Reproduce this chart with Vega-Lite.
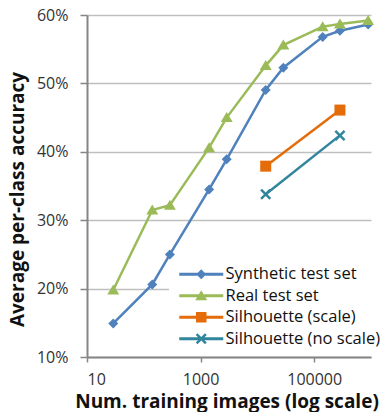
{
  "$schema": "https://vega.github.io/schema/vega-lite/v6.json",
  "width": 284,
  "height": 342,
  "autosize": "none",
  "padding": {"left": 87, "top": 15, "right": 15, "bottom": 55},
  "background": "white",
  "config": {"view": {"stroke": null}, "font": "Open Sans"},
  "data": {
    "values": [
      {"series": "Synthetic test set", "images": 29, "acc": 0.149},
      {"series": "Synthetic test set", "images": 141, "acc": 0.206},
      {"series": "Synthetic test set", "images": 288, "acc": 0.250},
      {"series": "Synthetic test set", "images": 1412, "acc": 0.345},
      {"series": "Synthetic test set", "images": 2880, "acc": 0.389},
      {"series": "Synthetic test set", "images": 14000, "acc": 0.4905},
      {"series": "Synthetic test set", "images": 28600, "acc": 0.523},
      {"series": "Synthetic test set", "images": 141000, "acc": 0.568},
      {"series": "Synthetic test set", "images": 284000, "acc": 0.577},
      {"series": "Synthetic test set", "images": 890000, "acc": 0.586},
      {"series": "Real test set", "images": 29, "acc": 0.198},
      {"series": "Real test set", "images": 141, "acc": 0.315},
      {"series": "Real test set", "images": 288, "acc": 0.322},
      {"series": "Real test set", "images": 1412, "acc": 0.406},
      {"series": "Real test set", "images": 2880, "acc": 0.450},
      {"series": "Real test set", "images": 14000, "acc": 0.526},
      {"series": "Real test set", "images": 28600, "acc": 0.556},
      {"series": "Real test set", "images": 141000, "acc": 0.583},
      {"series": "Real test set", "images": 284000, "acc": 0.587},
      {"series": "Real test set", "images": 890000, "acc": 0.592},
      {"series": "Silhouette (scale)", "images": 14000, "acc": 0.379},
      {"series": "Silhouette (scale)", "images": 284000, "acc": 0.461},
      {"series": "Silhouette (no scale)", "images": 14000, "acc": 0.338},
      {"series": "Silhouette (no scale)", "images": 284000, "acc": 0.424}
    ]
  },
  "encoding": {
    "x": {
      "field": "images", "type": "quantitative",
      "scale": {"type": "log", "domain": [10, 1000000], "nice": false},
      "axis": {
        "values": [10, 1000, 100000], "format": "d", "grid": false,
        "title": "Num. training images (log scale)",
        "domainColor": "#868686", "domainWidth": 2,
        "tickColor": "#868686", "tickWidth": 1.5, "tickSize": 5,
        "labelFont": "Open Sans", "labelFontSize": 16, "labelColor": "#333333", "labelPadding": 9,
        "titleFont": "Open Sans", "titleFontSize": 19, "titleFontWeight": "bold", "titleColor": "#111111",
        "titleX": 139.5, "titleY": 44, "titleAlign": "center", "titleBaseline": "middle"
      }
    },
    "y": {
      "field": "acc", "type": "quantitative",
      "scale": {"domain": [0.1, 0.6], "nice": false, "zero": false},
      "axis": {
        "values": [0.1, 0.2, 0.3, 0.4, 0.5, 0.6], "format": ".0%",
        "grid": true, "gridColor": "#bfbfbf", "gridWidth": 1.5,
        "title": "Average per-class accuracy",
        "domainColor": "#868686", "domainWidth": 2,
        "tickColor": "#868686", "tickWidth": 1.5, "tickSize": 7,
        "labelFont": "Open Sans", "labelFontSize": 16, "labelColor": "#333333", "labelPadding": 12,
        "titleFont": "Open Sans", "titleFontSize": 19, "titleFontWeight": "bold", "titleColor": "#111111",
        "titleX": -70, "titleY": 184, "titleAngle": 270, "titleAlign": "center", "titleBaseline": "middle"
      }
    },
    "color": {
      "field": "series", "type": "nominal",
      "scale": {
        "domain": ["Synthetic test set", "Real test set", "Silhouette (scale)", "Silhouette (no scale)"],
        "range": ["#4f81bd", "#9bbb59", "#e46c0a", "#31859c"]
      },
      "legend": {
        "orient": "none", "legendX": 82, "legendY": 245, "title": null,
        "fillColor": "white", "padding": 6,
        "labelFont": "Open Sans", "labelFontSize": 16.5, "labelColor": "#111111",
        "symbolSize": 100, "symbolStrokeWidth": 0, "symbolOffset": 18, "labelOffset": 16,
        "rowPadding": 4.5,
        "encode": {
          "symbols": {
            "update": {
              "shape": {
                "signal": "datum.value === 'Synthetic test set' ? 'M-4.4,-0.28H4.4V0.28H-4.4Z M-1,0L0,-1L1,0L0,1Z' : datum.value === 'Real test set' ? 'M-4.4,-0.28H4.4V0.28H-4.4Z M0,-1.1L1.2,0.9L-1.2,0.9Z' : datum.value === 'Silhouette (scale)' ? 'M-4.4,-0.28H4.4V0.28H-4.4Z M-1.05,-1.05H1.05V1.05H-1.05Z' : 'M-4.4,-0.28H4.4V0.28H-4.4Z M-1.1,-0.75L-0.75,-1.1L0,-0.35L0.75,-1.1L1.1,-0.75L0.35,0L1.1,0.75L0.75,1.1L0,0.35L-0.75,1.1L-1.1,0.75L-0.35,0Z'"
              }
            }
          }
        }
      }
    }
  },
  "layer": [
    {
      "mark": {"type": "line", "strokeWidth": 2.5}
    },
    {
      "transform": [{"filter": "datum.series === 'Synthetic test set'"}],
      "mark": {"type": "point", "filled": true, "size": 100, "opacity": 1, "strokeWidth": 0, "shape": "M-1,0L0,-1L1,0L0,1Z"}
    },
    {
      "transform": [{"filter": "datum.series === 'Real test set'"}],
      "mark": {"type": "point", "filled": true, "size": 100, "opacity": 1, "strokeWidth": 0, "shape": "M0,-1.1L1.2,0.9L-1.2,0.9Z"}
    },
    {
      "transform": [{"filter": "datum.series === 'Silhouette (scale)'"}],
      "mark": {"type": "point", "filled": true, "size": 100, "opacity": 1, "strokeWidth": 0, "shape": "M-1.1,-1.1H1.1V1.1H-1.1Z"}
    },
    {
      "transform": [{"filter": "datum.series === 'Silhouette (no scale)'"}],
      "mark": {"type": "point", "filled": true, "size": 100, "opacity": 1, "strokeWidth": 0, "shape": "M-1.1,-0.75L-0.75,-1.1L0,-0.35L0.75,-1.1L1.1,-0.75L0.35,0L1.1,0.75L0.75,1.1L0,0.35L-0.75,1.1L-1.1,0.75L-0.35,0Z"}
    }
  ]
}
